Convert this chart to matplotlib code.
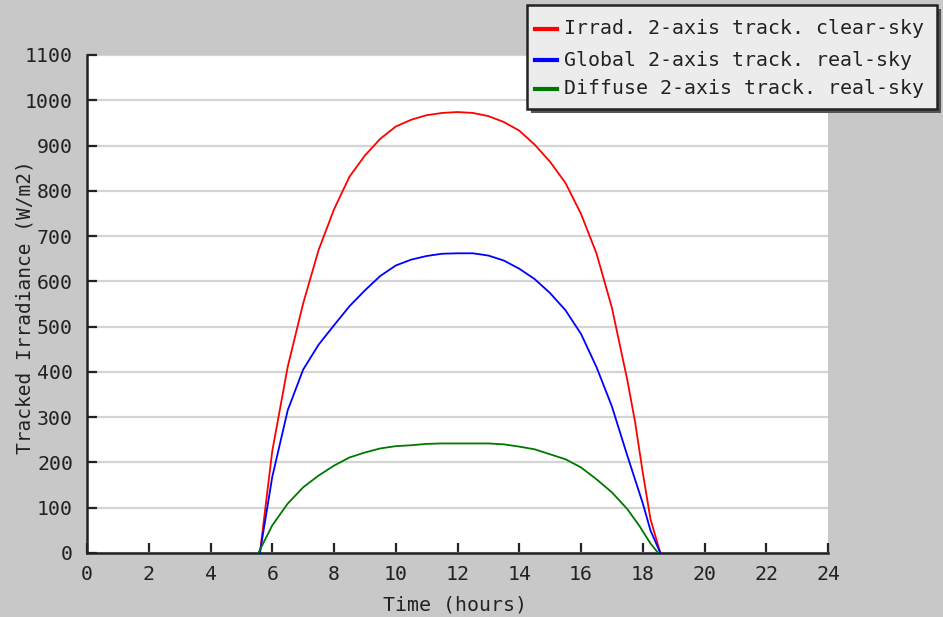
import matplotlib
matplotlib.use("Agg")
import matplotlib.pyplot as plt
from matplotlib.patches import Rectangle
from matplotlib.lines import Line2D

hours_clear = [5.6, 6.0, 6.5, 7.0, 7.5, 8.0, 8.5, 9.0, 9.5, 10.0, 10.5, 11.0, 11.5, 12.0,
               12.5, 13.0, 13.5, 14.0, 14.5, 15.0, 15.5, 16.0, 16.5, 17.0, 17.5, 17.75,
               18.0, 18.25, 18.57]
clear_sky = [0, 225, 411, 551, 669, 759, 831, 878, 915, 942, 957, 967, 972, 974,
             972, 965, 952, 933, 902, 864, 817, 749, 662, 542, 382, 290,
             178, 75, 0]

hours_global = [5.6, 6.0, 6.5, 7.0, 7.5, 8.0, 8.5, 9.0, 9.5, 10.0, 10.5, 11.0, 11.5, 12.0,
                12.5, 13.0, 13.5, 14.0, 14.5, 15.0, 15.5, 16.0, 16.5, 17.0, 17.5, 18.0,
                18.25, 18.57]
global_real = [0, 168, 315, 405, 460, 503, 545, 580, 612, 635, 648, 656, 661, 662,
               662, 657, 646, 628, 605, 574, 536, 484, 411, 324, 215, 110,
               50, 0]

hours_diffuse = [5.55, 6.0, 6.5, 7.0, 7.5, 8.0, 8.5, 9.0, 9.5, 10.0, 10.5, 11.0, 11.5, 12.0,
                 12.5, 13.0, 13.5, 14.0, 14.5, 15.0, 15.5, 16.0, 16.5, 17.0, 17.5, 17.9,
                 18.25, 18.5]
diffuse_real = [0, 61, 109, 145, 171, 193, 211, 222, 231, 236, 238, 241, 242, 242,
                242, 242, 240, 235, 229, 218, 207, 189, 163, 134, 97, 59,
                21, 0]

series_labels = ["Irrad. 2-axis track. clear-sky",
                 "Global 2-axis track. real-sky",
                 "Diffuse 2-axis track. real-sky"]
series_colors = ["#ff0000", "#0000ff", "#007700"]

x_ticks = list(range(0, 25, 2))
y_ticks = list(range(0, 1101, 100))

W, H = 943, 617
fig = plt.figure(figsize=(W / 100, H / 100), dpi=100)
fig.patch.set_facecolor("#c8c8c8")
ax = fig.add_axes([87 / W, (H - 553) / H, (828 - 87) / W, (553 - 55) / H])
ax.set_facecolor("white")

font = "DejaVu Sans Mono"
fs = 14.3

ax.plot(hours_clear, clear_sky, color=series_colors[0], lw=1.3, zorder=3)
ax.plot(hours_global, global_real, color=series_colors[1], lw=1.3, zorder=3)
ax.plot(hours_diffuse, diffuse_real, color=series_colors[2], lw=1.3, zorder=3)

ax.set_xlim(0, 24)
ax.set_ylim(0, 1100)
ax.set_xticks(x_ticks)
ax.set_yticks(y_ticks)
ax.set_xticklabels([str(t) for t in x_ticks], fontfamily=font, fontsize=fs)
ax.set_yticklabels([str(t) for t in y_ticks], fontfamily=font, fontsize=fs)
ax.tick_params(axis="both", direction="in", length=7, width=1.6, color="#222222",
               labelcolor="#222222")
ax.tick_params(axis="x", pad=9)
ax.tick_params(axis="y", pad=10)
ax.yaxis.grid(True, color="#d4d4d4", lw=1.6, zorder=0)
ax.set_axisbelow(True)
for s in ["top", "right"]:
    ax.spines[s].set_visible(False)
for s in ["left", "bottom"]:
    ax.spines[s].set_linewidth(1.8)
    ax.spines[s].set_color("#222222")

ax.set_xlabel("Time (hours)", fontfamily=font, fontsize=fs, color="#222222")
ax.xaxis.set_label_coords((455 - 87) / (828 - 87), -(605 - 553) / (553 - 55))
ax.xaxis.label.set_va("center")
ax.set_ylabel("Tracked Irradiance (W/m2)", fontfamily=font, fontsize=14, color="#222222")
ax.yaxis.set_label_coords(-(87 - 25) / (828 - 87), (553 - 307) / (553 - 55))
ax.yaxis.label.set_va("center")

# legend box with shadow (figure pixel coordinates)
def fx(px):
    return px / W

def fy(py):
    return 1 - py / H

fig.patches.append(Rectangle((fx(531), fy(113)), fx(941) - fx(531), fy(9) - fy(113),
                             transform=fig.transFigure, facecolor="#555555",
                             edgecolor="none", zorder=5))
fig.patches.append(Rectangle((fx(527), fy(109)), fx(937) - fx(527), fy(5) - fy(109),
                             transform=fig.transFigure, facecolor="#ececec",
                             edgecolor="#222222", lw=1.8, zorder=6))
rows = [29, 60, 89]
for lab, col, ry in zip(series_labels, series_colors, rows):
    fig.add_artist(Line2D([fx(535), fx(557)], [fy(ry), fy(ry)], color=col, lw=3,
                          transform=fig.transFigure, zorder=7))
    fig.text(fx(564), fy(ry), lab, fontfamily=font, fontsize=fs, color="#222222",
             va="center", ha="left", zorder=7)

fig.savefig("out.png", dpi=100, facecolor=fig.get_facecolor())
